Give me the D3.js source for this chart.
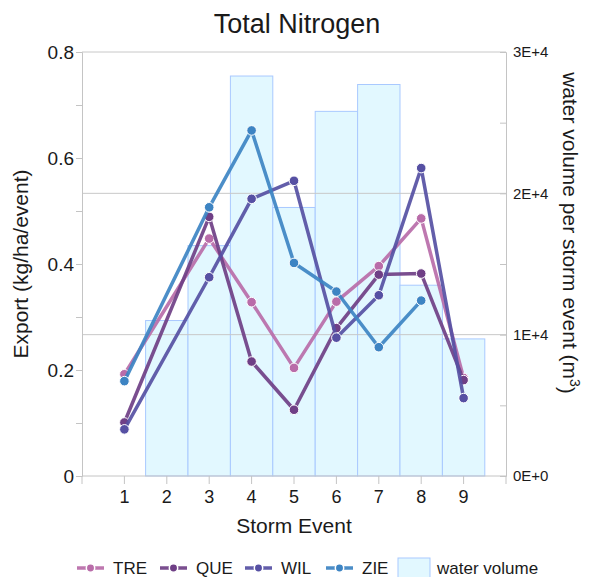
<!DOCTYPE html>
<html>
<head>
<meta charset="utf-8">
<script src="https://cdn.jsdelivr.net/npm/d3@7"></script>
<style>
  body { margin: 0; background: #fff; }
  text { font-family: "Liberation Sans", Arial, sans-serif; fill: #1a1a1a; }
</style>
</head>
<body>
<div id="chart"></div>
<script>
// storm events on the x axis
const events = [1, 2, 3, 4, 5, 6, 7, 8, 9];
// water volume per storm event (m3), no bar for event 1
const waterVolume = [null, 11000, 16300, 28300, 19000, 25800, 27700, 13500, 9700];
// export in kg/ha/event, null = no sample
const TRE = [0.192, null, 0.448, 0.328, 0.204, 0.329, 0.396, 0.486, 0.185];
const QUE = [0.101, null, 0.489, 0.216, 0.125, 0.279, 0.380, 0.382, 0.181];
const WIL = [0.088, null, 0.375, 0.523, 0.557, 0.261, 0.341, 0.581, 0.147];
const ZIE = [0.179, null, 0.507, 0.652, 0.402, 0.348, 0.243, 0.331, null];
const leftTicks = [0, 0.2, 0.4, 0.6, 0.8];
const rightTicks = [0, 10000, 20000, 30000];

const seriesNames = ["TRE", "QUE", "WIL", "ZIE"];
const seriesValues = [TRE, QUE, WIL, ZIE];
const colors = ["#b96ca9", "#6f3f86", "#5650a3", "#3d84c3"];

const width = 592, height = 577;
const margin = {top: 52, right: 86, bottom: 101, left: 82};
const innerW = width - margin.left - margin.right;
const innerH = height - margin.top - margin.bottom;

const svg = d3.select("#chart").append("svg")
  .attr("width", width)
  .attr("height", height);

const g = svg.append("g")
  .attr("transform", `translate(${margin.left},${margin.top})`);

const x = d3.scaleLinear().domain([0, 10]).range([0, innerW]);
const yL = d3.scaleLinear().domain([0, 0.8]).range([innerH, 0]);
const yR = d3.scaleLinear().domain([0, 30000]).range([innerH, 0]);

// water volume bars
const barData = events.map((e, i) => ({e, v: waterVolume[i]})).filter(d => d.v != null);
g.append("g")
  .selectAll("rect")
  .data(barData)
  .join("rect")
  .attr("x", d => x(d.e - 0.5))
  .attr("width", d => x(d.e + 0.5) - x(d.e - 0.5))
  .attr("y", d => yR(d.v))
  .attr("height", d => innerH - yR(d.v))
  .attr("fill", "#e2f8ff")
  .attr("stroke", "#a9c9ff")
  .attr("stroke-width", 1);

// grid lines follow the right axis, drawn over the bars
g.append("g")
  .selectAll("line")
  .data(rightTicks.slice(1))
  .join("line")
  .attr("x1", 0).attr("x2", innerW)
  .attr("y1", d => yR(d)).attr("y2", d => yR(d))
  .attr("stroke", "#c8c8c8");

// axes
const axisColor = "#c4c4c4";
const left = g.append("g").call(d3.axisLeft(yL).tickValues(d3.range(0, 0.81, 0.1)).tickSize(6).tickFormat(""));
left.select(".domain").attr("stroke", axisColor);
left.selectAll(".tick line").attr("stroke", axisColor);
g.append("g").selectAll("text")
  .data(leftTicks)
  .join("text")
  .attr("x", -8)
  .attr("y", d => yL(d))
  .attr("dy", "0.36em")
  .attr("text-anchor", "end")
  .style("font-size", "19px")
  .text(d => d === 0 ? "0" : d3.format(".1f")(d));

const right = g.append("g").attr("transform", `translate(${innerW},0)`)
  .call(d3.axisRight(yR).tickValues(d3.range(0, 30001, 5000)).tickSize(-6).tickFormat(""));
right.select(".domain").attr("stroke", axisColor);
right.selectAll(".tick line").attr("stroke", axisColor);
g.append("g").selectAll("text")
  .data(rightTicks)
  .join("text")
  .attr("x", innerW + 7)
  .attr("y", d => yR(d))
  .attr("dy", "0.36em")
  .style("font-size", "15px")
  .text(d => (d / 10000) + "E" + (d === 0 ? "+0" : "+4"));

// x axis baseline, ticks and the axis ends reaching down
g.append("line")
  .attr("x1", 0).attr("x2", innerW)
  .attr("y1", innerH).attr("y2", innerH)
  .attr("stroke", axisColor);
g.append("g").selectAll("line")
  .data([0, ...events, 10])
  .join("line")
  .attr("x1", d => x(d)).attr("x2", d => x(d))
  .attr("y1", innerH).attr("y2", innerH + 8)
  .attr("stroke", axisColor);
g.append("g").selectAll("text")
  .data(events)
  .join("text")
  .attr("x", d => x(d))
  .attr("y", innerH + 27)
  .attr("text-anchor", "middle")
  .style("font-size", "18px")
  .text(d => d);

// lines, nulls skipped and joined over
const line = d3.line().x(d => x(d.e)).y(d => yL(d.v));
seriesValues.forEach((vals, k) => {
  const pts = events.map((e, i) => ({e, v: vals[i]})).filter(d => d.v != null);
  g.append("path")
    .datum(pts)
    .attr("d", line)
    .attr("fill", "none")
    .attr("stroke", colors[k])
    .attr("stroke-width", 3.5)
    .attr("stroke-linejoin", "round")
    .attr("opacity", 0.92);
  g.append("g").selectAll("circle")
    .data(pts)
    .join("circle")
    .attr("cx", d => x(d.e))
    .attr("cy", d => yL(d.v))
    .attr("r", 4.8)
    .attr("fill", colors[k])
    .attr("stroke", "#fff")
    .attr("stroke-width", 1);
});

// titles
svg.append("text")
  .attr("x", 297).attr("y", 33)
  .attr("text-anchor", "middle")
  .style("font-size", "27px")
  .text("Total Nitrogen");

svg.append("text")
  .attr("x", margin.left + innerW / 2).attr("y", 533)
  .attr("text-anchor", "middle")
  .style("font-size", "21px")
  .text("Storm Event");

svg.append("text")
  .attr("transform", "translate(28,264) rotate(-90)")
  .attr("text-anchor", "middle")
  .style("font-size", "21px")
  .text("Export (kg/ha/event)");

const rt = svg.append("text")
  .attr("transform", "translate(563,233) rotate(90)")
  .attr("text-anchor", "middle")
  .style("font-size", "21px");
rt.append("tspan").text("water volume per storm event (m");
rt.append("tspan").attr("dy", "-0.5em").style("font-size", "14px").text("3");
rt.append("tspan").attr("dy", "0.5em").text(")");

// legend
const lg = svg.append("g").attr("transform", "translate(0,568)");
const legendX = [77, 160, 245, 326];
seriesNames.forEach((name, k) => {
  const item = lg.append("g").attr("transform", `translate(${legendX[k]},0)`);
  item.append("line")
    .attr("x1", 0).attr("x2", 27)
    .attr("stroke", colors[k])
    .attr("stroke-width", 3.5)
    .attr("opacity", 0.92);
  item.append("circle")
    .attr("cx", 13.5).attr("r", 4.2)
    .attr("fill", colors[k])
    .attr("stroke", "#fff")
    .attr("stroke-width", 1.5);
  item.append("text")
    .attr("x", 36).attr("dy", "0.36em")
    .style("font-size", "17px")
    .text(name);
});
lg.append("rect")
  .attr("x", 398).attr("y", -10)
  .attr("width", 32).attr("height", 22)
  .attr("fill", "#e2f8ff")
  .attr("stroke", "#a9c9ff");
lg.append("text")
  .attr("x", 437).attr("dy", "0.36em")
  .style("font-size", "17px")
  .text("water volume");
</script>
</body>
</html>
